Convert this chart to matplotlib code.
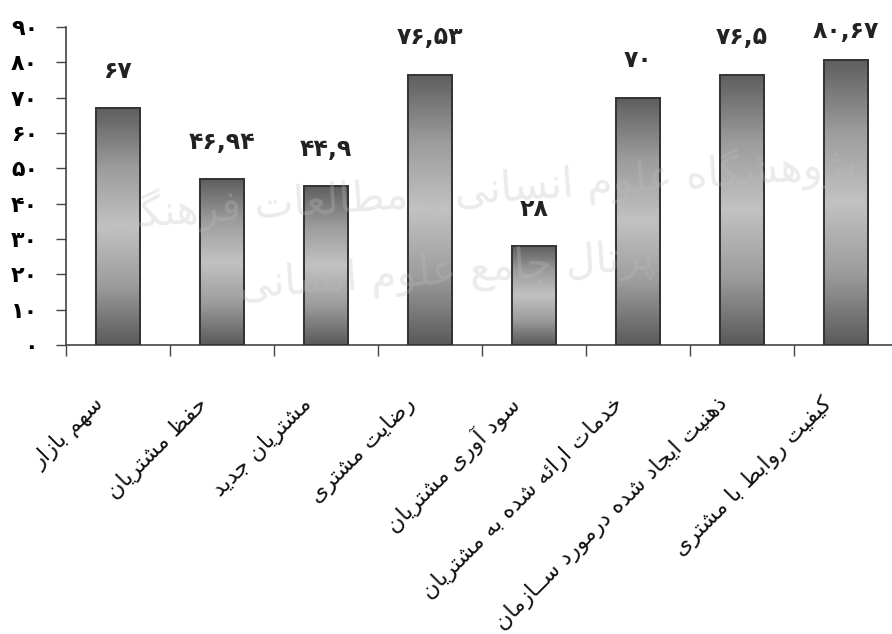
import numpy as np
import matplotlib
matplotlib.use("Agg")
import matplotlib.pyplot as plt
from matplotlib.colors import LinearSegmentedColormap
from matplotlib.patches import Rectangle

# ------------------------------------------------------------
# DATA
# ------------------------------------------------------------
categories = [
    "سهم بازار",
    "حفظ مشتریان",
    "مشتریان جدید",
    "رضایت مشتری",
    "سود آوری مشتریان",
    "خدمات ارائه شده به مشتریان",
    "ذهنیت ایجاد شده درمورد ســازمان",
    "کیفیت روابط با مشتری",
]
values = [67, 46.94, 44.9, 76.53, 28, 70, 76.5, 80.67]
value_labels = ["۶۷", "۴۶,۹۴", "۴۴,۹", "۷۶,۵۳", "۲۸", "۷۰", "۷۶,۵", "۸۰,۶۷"]
y_ticks = [0, 10, 20, 30, 40, 50, 60, 70, 80, 90]

watermark_lines = ["پژوهشگاه علوم انسانی و مطالعات فرهنگی", "پرتال جامع علوم انسانی"]

# ------------------------------------------------------------
# simple Persian shaping (no arabic_reshaper available)
# ------------------------------------------------------------
DUAL = {
    "ب": 0xFE8F, "ت": 0xFE95, "ث": 0xFE99, "ج": 0xFE9D, "ح": 0xFEA1,
    "خ": 0xFEA5, "س": 0xFEB1, "ش": 0xFEB5, "ص": 0xFEB9, "ض": 0xFEBD,
    "ط": 0xFEC1, "ظ": 0xFEC5, "ع": 0xFEC9, "غ": 0xFECD, "ف": 0xFED1,
    "ق": 0xFED5, "ک": 0xFB8E, "گ": 0xFB92, "ل": 0xFEDD, "م": 0xFEE1,
    "ن": 0xFEE5, "ه": 0xFEE9, "ی": 0xFBFC, "ئ": 0xFE89, "پ": 0xFB56,
    "چ": 0xFB7A,
}
RIGHT = {
    "ا": 0xFE8D, "آ": 0xFE81, "د": 0xFEA9, "ذ": 0xFEAB, "ر": 0xFEAD,
    "ز": 0xFEAF, "و": 0xFEED, "ژ": 0xFB8A,
}
TATWEEL = "ـ"
FA_DIGITS = "۰۱۲۳۴۵۶۷۸۹"


def joins_left(c):
    return c in DUAL or c == TATWEEL


def is_letter(c):
    return c in DUAL or c in RIGHT or c == TATWEEL


def shape(text):
    chars = list(text)
    out = []
    i = 0
    while i < len(chars):
        c = chars[i]
        prev = chars[i - 1] if i > 0 else " "
        nxt = chars[i + 1] if i + 1 < len(chars) else " "
        j_prev = joins_left(prev) and is_letter(c)
        if c == "ل" and nxt == "ا":
            out.append(chr(0xFEFC if j_prev else 0xFEFB))
            i += 2
            continue
        if c in DUAL:
            j_next = is_letter(nxt)
            if j_prev and j_next:
                out.append(chr(DUAL[c] + 3))
            elif j_prev:
                out.append(chr(DUAL[c] + 1))
            elif j_next:
                out.append(chr(DUAL[c] + 2))
            else:
                out.append(chr(DUAL[c]))
        elif c in RIGHT:
            out.append(chr(RIGHT[c] + 1 if j_prev else RIGHT[c]))
        else:
            out.append(c)
        i += 1
    return "".join(reversed(out))


def fa_num(n):
    return "".join(FA_DIGITS[int(d)] for d in str(n))


# ------------------------------------------------------------
# FIGURE
# ------------------------------------------------------------
plt.rcParams["font.family"] = ["DejaVu Sans"]

fig = plt.figure(figsize=(8.92, 6.34), dpi=100)
ax = fig.add_axes([66 / 892, 1 - 345 / 634, 1 - 66 / 892, 318 / 634])

cmap = LinearSegmentedColormap.from_list(
    "bar_shade", ["#5e5e5e", "#9c9c9c", "#c2c2c2", "#9c9c9c", "#5a5a5a"]
)
grad = np.linspace(0, 1, 256).reshape(-1, 1)

bar_w = 0.43
x = np.arange(len(values))
for xi, v in zip(x, values):
    im = ax.imshow(grad, cmap=cmap, aspect="auto", origin="upper",
                   extent=(xi - bar_w / 2, xi + bar_w / 2, 0, v), zorder=2)
    rect = Rectangle((xi - bar_w / 2, 0), bar_w, v, facecolor="none",
                     edgecolor="#333333", linewidth=1.4, zorder=3)
    ax.add_patch(rect)
    im.set_clip_path(rect)

# value labels sit above each bar, kept inside the plot area near the top
for xi, v, lab in zip(x, values, value_labels):
    ax.text(xi, min(v + 7.2, 85.5), lab, ha="center", va="bottom", fontsize=17,
            fontweight="bold", color="#222222", zorder=4)

ax.set_xlim(-0.5, (892 - 66) / 104 - 0.5)
ax.set_ylim(0, 90)

ax.set_yticks(y_ticks)
ax.set_yticklabels([fa_num(t) for t in y_ticks], fontsize=16, fontweight="bold")
ax.set_xticks(np.arange(len(values)) - 0.5)
ax.set_xticklabels([])
ax.tick_params(axis="y", direction="out", length=7, width=1, color="#444444", pad=13)
ax.tick_params(axis="x", direction="out", length=8, width=1, color="#444444")

for side in ["top", "right"]:
    ax.spines[side].set_visible(False)
for side in ["left", "bottom"]:
    ax.spines[side].set_color("#444444")
    ax.spines[side].set_linewidth(1.2)

# rotated category names below the axis
for xi, name in zip(x, categories):
    ax.text(xi - 0.17, -0.175, shape(name), transform=ax.get_xaxis_transform(),
            rotation=45, rotation_mode="anchor", ha="right", va="center",
            fontsize=16, color="#111111")

# faint institutional watermark
fig.text(0.54, 0.70, shape(watermark_lines[0]), ha="center", va="center",
         fontsize=30, color="#bdbdbd", alpha=0.3, rotation=4, zorder=0)
fig.text(0.50, 0.57, shape(watermark_lines[1]), ha="center", va="center",
         fontsize=30, color="#bdbdbd", alpha=0.3, rotation=4, zorder=0)

fig.savefig("out.png", dpi=100)
